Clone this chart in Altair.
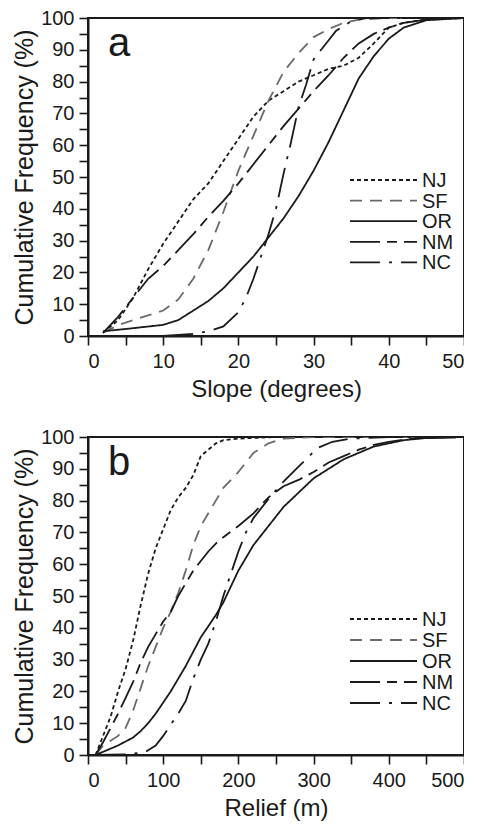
import altair as alt
import pandas as pd

sites = ["NJ", "SF", "OR", "NM", "NC"]
line_colors = ["#1a1a1a", "#6a6a6a", "#1a1a1a", "#1a1a1a", "#1a1a1a"]
line_dashes = [[4, 3], [12, 8], [1, 0], [30, 7, 10, 7], [30, 9, 3, 9]]

# ---- Panel a: slope (degrees) vs cumulative frequency (%)
slope_nj_x = [2, 4, 6, 8, 10, 12, 14, 16, 18, 20, 22, 24, 26, 28, 30, 32, 34, 36, 38, 40, 42, 45, 50]
slope_nj_y = [1, 5, 12, 21, 29, 36, 43, 48, 55, 62, 69, 74, 77, 80, 82, 84, 85, 87.5, 92, 97, 98.5, 99.5, 100]
slope_sf_x = [2, 4, 6, 8, 10, 12, 14, 16, 18, 20, 22, 24, 26, 28, 30, 32, 34, 36, 40, 50]
slope_sf_y = [1, 3.4, 5, 6.5, 8, 11.5, 18, 27, 39, 52, 63, 74, 83, 89, 94, 96.5, 98.5, 99.5, 100, 100]
slope_or_x = [2, 5, 10, 12, 14, 16, 18, 20, 22, 24, 26, 28, 30, 32, 34, 36, 38, 40, 42, 45, 50]
slope_or_y = [1.5, 2.2, 3.5, 5, 8, 11, 15, 20, 25, 31, 37, 44, 52, 61, 71, 81, 88, 93.5, 97, 99.3, 100]
slope_nm_x = [2, 4, 6, 8, 10, 12, 14, 16, 18, 20, 22, 24, 26, 28, 30, 32, 34, 36, 38, 40, 42, 45, 50]
slope_nm_y = [1, 6, 12, 18, 22, 27, 32, 37.5, 42.5, 48, 54, 60, 66, 71.5, 77, 82, 87.5, 92, 95, 97, 98.5, 99.5, 100]
slope_nc_x = [10, 14, 16, 18, 20, 21, 22, 23, 24, 25, 26, 27, 28, 29, 30, 31, 32, 33, 35, 37, 50]
slope_nc_y = [0, 0.7, 1.5, 3, 7.5, 12, 18, 25, 32, 40, 51, 61, 72, 79, 87, 90, 93, 96, 99, 100, 100]

# ---- Panel b: relief (m) vs cumulative frequency (%)
relief_nj_x = [10, 20, 30, 40, 50, 60, 70, 80, 90, 100, 110, 120, 130, 140, 150, 160, 170, 180, 200, 250, 500]
relief_nj_y = [0, 6, 12, 20, 27, 36, 47, 57, 65, 71, 77, 81, 84, 88, 94, 96, 98, 99, 99.5, 100, 100]
relief_sf_x = [10, 20, 30, 40, 50, 60, 70, 80, 90, 100, 110, 120, 130, 140, 150, 160, 170, 180, 200, 220, 240, 260, 300, 500]
relief_sf_y = [0, 3, 4.5, 6, 8.5, 14, 21, 28, 34, 40, 45, 51, 58, 66, 72, 76, 80, 84, 89, 95, 98, 99.5, 100, 100]
relief_or_x = [10, 25, 40, 60, 70, 80, 90, 100, 110, 120, 130, 140, 150, 160, 170, 180, 190, 200, 220, 240, 260,
               280, 300, 320, 340, 360, 380, 400, 420, 450, 500]
relief_or_y = [0, 1.5, 3, 5.5, 7.5, 10, 13, 16.5, 20, 24, 28, 32.5, 37, 40.5, 44, 48, 53, 58, 66, 72, 78,
               82.5, 87, 90, 93, 95, 97, 98, 99, 99.7, 100]
relief_nm_x = [10, 20, 30, 40, 50, 60, 70, 80, 90, 100, 110, 120, 130, 140, 150, 160, 170, 180, 200, 220, 240,
               260, 280, 300, 320, 340, 360, 380, 400, 430, 500]
relief_nm_y = [0, 4, 8.5, 13, 18, 23, 29, 34, 38, 42, 45, 50, 54, 58, 61, 64, 66.5, 68.5, 72, 76, 81,
               84.5, 86.5, 89, 92, 94, 96, 97.5, 98.5, 99.5, 100]
relief_nc_x = [10, 50, 75, 90, 100, 110, 120, 130, 140, 150, 160, 170, 180, 190, 200, 210, 220, 240, 260, 275,
               290, 305, 325, 350, 400, 500]
relief_nc_y = [0, 0.2, 0.8, 3, 6, 9.5, 13, 17, 24, 30, 35, 42, 50, 57, 64, 70, 74.5, 80.5, 86, 89.5,
               93, 96.5, 98.5, 99.5, 100, 100]

slope_series = [(slope_nj_x, slope_nj_y), (slope_sf_x, slope_sf_y), (slope_or_x, slope_or_y),
                (slope_nm_x, slope_nm_y), (slope_nc_x, slope_nc_y)]
relief_series = [(relief_nj_x, relief_nj_y), (relief_sf_x, relief_sf_y), (relief_or_x, relief_or_y),
                 (relief_nm_x, relief_nm_y), (relief_nc_x, relief_nc_y)]

FONT = "Liberation Sans"
W, H = 376, 318


def to_frame(series):
    rows = []
    for site, (xs, ys) in zip(sites, series):
        for i, (xv, yv) in enumerate(zip(xs, ys)):
            rows.append({"site": site, "x": xv, "y": yv, "i": i})
    return pd.DataFrame(rows)


def panel(series, xmax, xstep, xlabstep, xtitle, letter, leg_top, leg_step):
    df = to_frame(series)
    lines = alt.Chart(df).mark_line(strokeWidth=1.8, clip=True).encode(
        x=alt.X("x:Q", scale=alt.Scale(domain=[0, xmax], nice=False),
                axis=alt.Axis(values=list(range(0, xmax + 1, xstep)),
                              labelExpr=f"datum.value % {xlabstep} == 0 ? datum.label : ''",
                              title=xtitle, labelPadding=6, titlePadding=6)),
        y=alt.Y("y:Q", scale=alt.Scale(domain=[0, 100], nice=False),
                axis=alt.Axis(values=list(range(0, 101, 5)),
                              labelExpr="datum.value % 10 == 0 ? datum.label : ''",
                              title="Cumulative Frequency (%)", labelPadding=5, titlePadding=3,
                              titleFontSize=25)),
        color=alt.Color("site:N", scale=alt.Scale(domain=sites, range=line_colors), legend=None),
        strokeDash=alt.StrokeDash("site:N", scale=alt.Scale(domain=sites, range=line_dashes), legend=None),
        order="i:Q",
    )
    layers = [lines]
    for k, site in enumerate(sites):
        ld = pd.DataFrame({"site": [site]})
        yk = leg_top + k * leg_step
        layers.append(alt.Chart(ld).mark_rule(strokeWidth=1.8).encode(
            x=alt.value(262), x2=alt.value(329), y=alt.value(yk),
            color=alt.value(line_colors[k]), strokeDash=alt.value(line_dashes[k])))
        layers.append(alt.Chart(ld).mark_text(
            align="left", baseline="middle", fontSize=20, font=FONT, color="#1a1a1a").encode(
            x=alt.value(334), y=alt.value(yk + 1), text="site:N"))
    lab = pd.DataFrame({"letter": [letter]})
    layers.append(alt.Chart(lab).mark_text(
        align="left", baseline="alphabetic", fontSize=40, font=FONT, color="#1a1a1a").encode(
        x=alt.value(20), y=alt.value(38), text="letter:N"))
    return alt.layer(*layers).properties(width=W, height=H)


pa = panel(slope_series, 50, 5, 10, "Slope (degrees)", "a", 162, 20.6)
pb = panel(relief_series, 500, 50, 100, "Relief (m)", "b", 182, 21)

chart = alt.vconcat(pa, pb, spacing=24).properties(
    padding={"top": -1, "left": 3, "right": -2, "bottom": 0}
).configure_view(
    stroke="#1a1a1a", strokeWidth=2
).configure_axis(
    grid=False, domainColor="#1a1a1a", domainWidth=2, tickColor="#1a1a1a", tickWidth=1.6,
    tickSize=9, labelFont=FONT, labelFontSize=20, labelColor="#1a1a1a",
    titleFont=FONT, titleFontSize=24, titleFontWeight="normal", titleColor="#1a1a1a"
)

chart.save("out.html", embed_options={"renderer": "svg", "actions": False})
